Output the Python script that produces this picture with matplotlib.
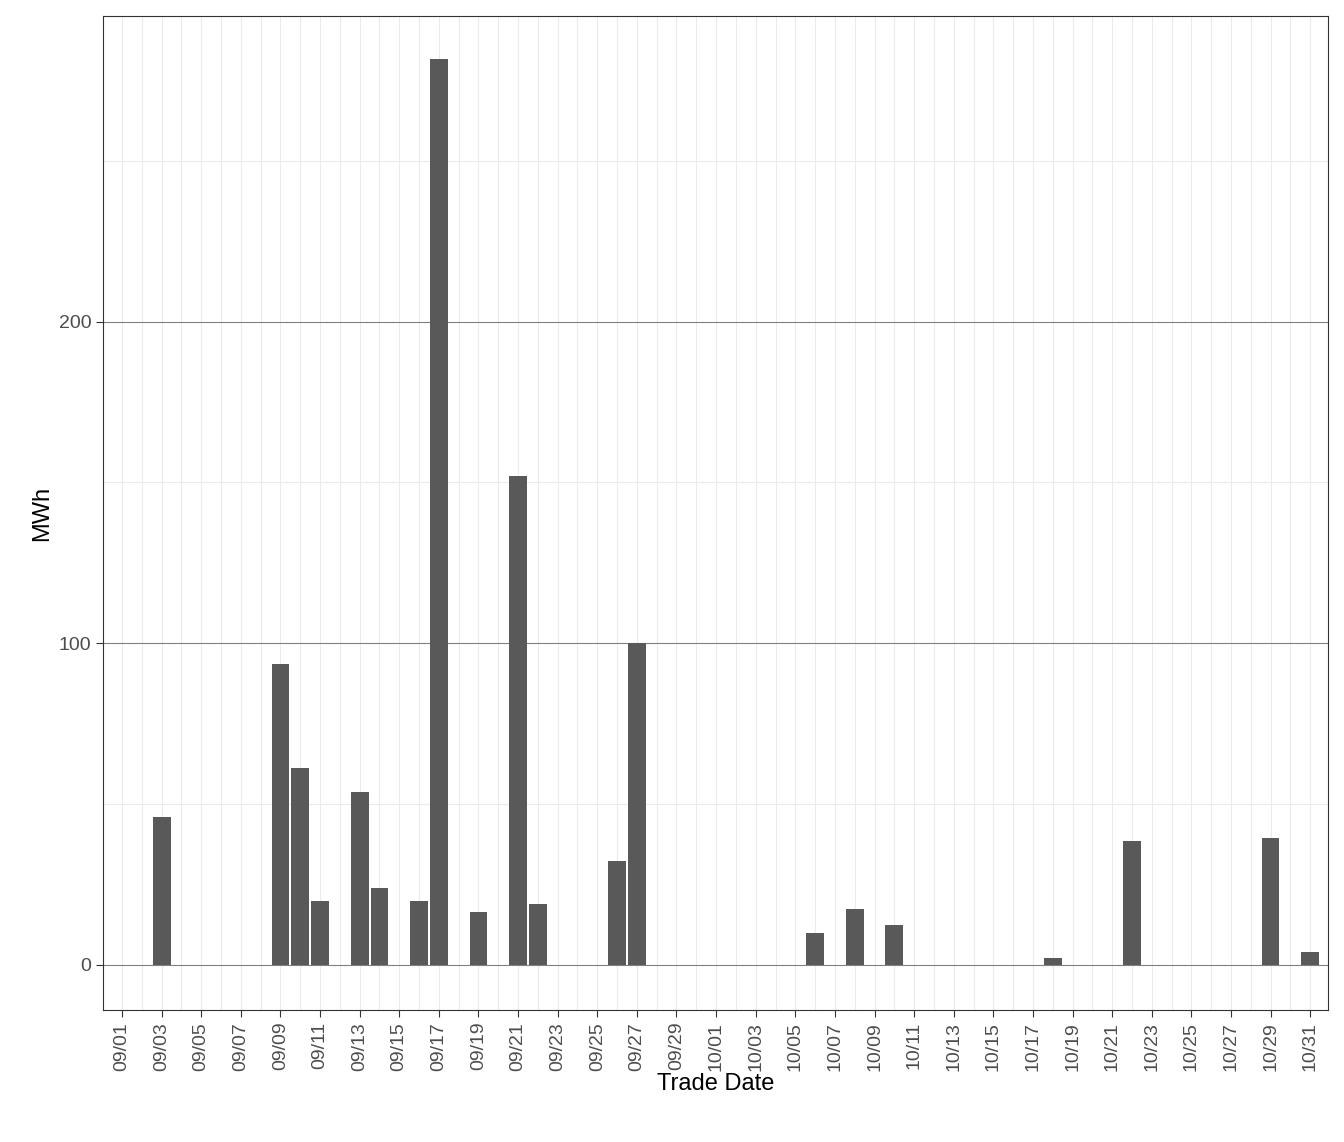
import matplotlib
matplotlib.use("Agg")
import matplotlib.pyplot as plt
import numpy as np
import datetime as dt

plt.rcParams['font.family'] = ['Liberation Sans', 'DejaVu Sans']

days = ["09/03","09/09","09/10","09/11","09/13","09/14","09/16","09/17","09/19","09/21","09/22",
        "09/26","09/27","10/06","10/08","10/10","10/18","10/22","10/29","10/31"]
values = [46,93.6,61.3,19.9,53.8,24,19.9,281.5,16.5,152,19,32.3,100,10,17.4,12.4,2.2,38.6,39.5,4]

start = dt.date(2023,9,1)
def idx(s):
    m,d = map(int, s.split("/"))
    return (dt.date(2023,m,d)-start).days
x = [idx(s) for s in days]
all_labels = [(start+dt.timedelta(days=i)).strftime("%m/%d") for i in range(61)]

fig = plt.figure(figsize=(13.44,11.42), dpi=100)
ax = fig.add_axes([103/1344, 1-1010/1142, (1328-103)/1344, (1010-16)/1142])
for i in range(61):
    ax.axvline(i, color="#ebebeb", lw=0.8, zorder=0)
for v in [50,150,250]:
    ax.axhline(v, color="#ebebeb", lw=0.8, zorder=0)
for v in [0,100,200]:
    ax.axhline(v, color="#808080", lw=0.8, zorder=0.5)
ax.bar(x, values, width=0.9, color="#595959", zorder=2)
ax.set_xlim(-0.96, 60.9)
ax.set_ylim(-14, 295)
ax.set_xticks(range(0,61,2))
ax.set_xticklabels(all_labels[::2], rotation=90, fontsize=14, color="#4d4d4d")
ax.set_yticks([0,100,200])
ax.set_yticklabels(["0","100","200"], fontsize=14, color="#4d4d4d")
ax.tick_params(color="#333333", length=5)
for s in ax.spines.values():
    s.set_color("#333333"); s.set_linewidth(0.8)
ax.set_xlabel("Trade Date", fontsize=17, labelpad=2)
ax.set_ylabel("MWh", fontsize=17)
fig.savefig("out.png", dpi=100)
